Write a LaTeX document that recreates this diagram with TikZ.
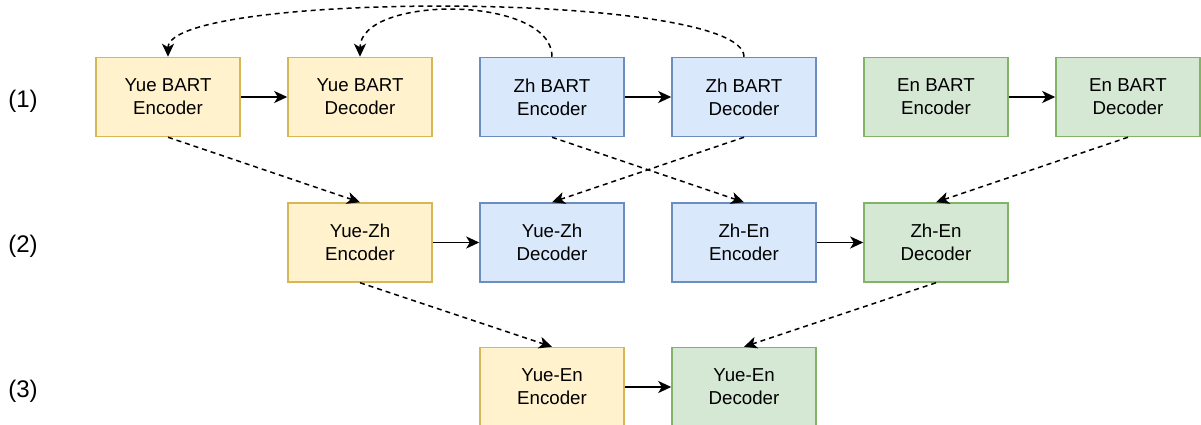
\documentclass[tikz,border=0pt]{standalone}
\usepackage{fontspec}
\setmainfont{Liberation Sans}
\usetikzlibrary{arrows.meta}
\definecolor{yfill}{HTML}{FFF2CC}\definecolor{ydraw}{HTML}{D6B656}
\definecolor{bfill}{HTML}{DAE8FC}\definecolor{bdraw}{HTML}{6C8EBF}
\definecolor{gfill}{HTML}{D5E8D4}\definecolor{gdraw}{HTML}{82B366}
\tikzset{
  box/.style={rectangle, minimum width=144pt, minimum height=79pt, inner sep=0pt,
    line width=1.5pt, align=center, font=\fontsize{18.7}{23}\selectfont},
  ybox/.style={box, fill=yfill, draw=ydraw},
  bbox/.style={box, fill=bfill, draw=bdraw},
  gbox/.style={box, fill=gfill, draw=gdraw},
  tip/.style={-{Stealth[length=13pt,width=12pt,inset=3.5pt]}},
  solidarrow/.style={tip, line width=1.8pt},
  dasharrow/.style={tip, line width=1.5pt, dash pattern=on 5pt off 4pt},
  rowlabel/.style={font=\fontsize{24}{28}\selectfont, inner sep=0pt}
}
\begin{document}
\begin{tikzpicture}[x=1pt,y=-1pt]
\useasboundingbox (0,0) rectangle (1201,425);
% row labels
\node[rowlabel] (l1) at (23,101) {(1)};
\node[rowlabel] (l2) at (23,246) {(2)};
\node[rowlabel] (l3) at (23,391) {(3)};
% row 1
\node[ybox] (yueenc) at (168,97) {Yue BART\\Encoder};
\node[ybox] (yuedec) at (360,97) {Yue BART\\Decoder};
\node[bbox] (zhenc) at (552,97) {Zh BART\\Encoder};
\node[bbox] (zhdec) at (744,97) {Zh BART\\Decoder};
\node[gbox] (enenc) at (936,97) {En BART\\Encoder};
\node[gbox] (endec) at (1128,97) {En BART\\Decoder};
% row 2
\node[ybox] (yzenc) at (360,242.5) {Yue-Zh\\Encoder};
\node[bbox] (yzdec) at (552,242.5) {Yue-Zh\\Decoder};
\node[bbox] (zeenc) at (744,242.5) {Zh-En\\Encoder};
\node[gbox] (zedec) at (936,242.5) {Zh-En\\Decoder};
% row 3
\node[ybox] (yeenc) at (552,387) {Yue-En\\Encoder};
\node[gbox] (yedec) at (744,387) {Yue-En\\Decoder};
% solid arrows
\draw[solidarrow] (yueenc) -- (yuedec);
\draw[solidarrow] (zhenc) -- (zhdec);
\draw[solidarrow] (enenc) -- (endec);
\draw[solidarrow] (yzenc) -- (yzdec);
\draw[solidarrow] (zeenc) -- (zedec);
\draw[solidarrow] (yeenc) -- (yedec);
% dashed arrows
\draw[dasharrow] (yueenc.south) -- (yzenc.north);
\draw[dasharrow] (zhdec.south) -- (yzdec.north);
\draw[dasharrow] (zhenc.south) -- (zeenc.north);
\draw[dasharrow] (endec.south) -- (zedec.north);
\draw[dasharrow] (yzenc.south) -- (yeenc.north);
\draw[dasharrow] (zedec.south) -- (yedec.north);
% curved arrows
\draw[dasharrow] (zhenc.north) .. controls +(0,-62) and +(0,-62) .. (yuedec.north);
\draw[dasharrow] (zhdec.north) .. controls +(0,-66) and +(0,-66) .. (yueenc.north);
\end{tikzpicture}
\end{document}
